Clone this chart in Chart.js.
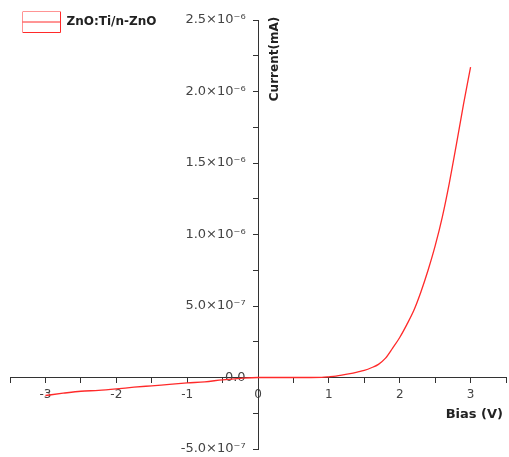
<!DOCTYPE html>
<html>
<head>
<meta charset="utf-8">
<script src="https://cdn.jsdelivr.net/npm/chart.js@4/dist/chart.umd.min.js"></script>
<style>
  html, body { margin: 0; padding: 0; background: #ffffff; }
  #wrap { width: 509px; height: 457px; position: relative; }
</style>
</head>
<body>
<div id="wrap"><canvas id="c" width="509" height="457"></canvas></div>
<script>
// ---- data ----
const seriesLabel = 'ZnO:Ti/n-ZnO';
const biasV = [-3.0, -2.75, -2.5, -2.25, -2.0, -1.75, -1.5, -1.25, -1.0, -0.75, -0.5, -0.25, 0.0,
               0.25, 0.5, 0.75, 0.9, 1.0, 1.1, 1.2, 1.3, 1.4, 1.5, 1.6, 1.7, 1.8, 1.9,
               2.0, 2.1, 2.2, 2.3, 2.4, 2.5, 2.6, 2.7, 2.8, 2.9, 3.0];
const currentMA = [-1.26e-7, -1.10e-7, -0.96e-7, -0.90e-7, -0.80e-7, -0.68e-7, -0.58e-7, -0.48e-7, -0.38e-7, -0.30e-7, -0.16e-7, -0.06e-7, 0.0,
                   0.0, 0.0, 0.0, 0.001e-6, 0.005e-6, 0.010e-6, 0.018e-6, 0.027e-6, 0.038e-6, 0.050e-6, 0.068e-6, 0.092e-6, 0.135e-6, 0.205e-6,
                   0.280e-6, 0.370e-6, 0.470e-6, 0.600e-6, 0.750e-6, 0.920e-6, 1.120e-6, 1.360e-6, 1.630e-6, 1.910e-6, 2.170e-6];
const xTitle = 'Bias (V)';
const yTitle = 'Current(mA)';
const xMin = -3.5, xMax = 3.5, xStep = 0.5;
const yMin = -5e-7, yMax = 2.5e-6, yStep = 2.5e-7;

const LEG_LEFT = 22.5, LEG_TOP = 11.5, LEG_BOX_W = 38, LEG_BOX_H = 21;

function yLabel(v) {
  const k = Math.round(v / yStep);
  if (k % 2 !== 0) return '';
  const val = k * yStep;
  const gap = '   ';
  if (k === 0) return '0.0' + gap;
  if (Math.abs(val) >= 1e-6 - 1e-12) return (val / 1e-6).toFixed(1) + '×10⁻⁶' + gap;
  return (val / 1e-7).toFixed(1) + '×10⁻⁷' + gap;
}
function xLabel(v) {
  const k = Math.round(v / xStep);
  if (k % 2 !== 0) return '';
  return String(k / 2);
}

const titlesPlugin = {
  id: 'titlesAndLegendPos',
  afterLayout(chart) {
    const lg = chart.legend;
    if (lg) { lg.left = LEG_LEFT; lg.top = LEG_TOP; }
  },
  afterDraw(chart) {
    const ctx = chart.ctx;
    // Origin-style line through the legend box
    const ds = chart.data.datasets[0];
    ctx.save();
    ctx.strokeStyle = ds.borderColor;
    ctx.lineWidth = 1;
    ctx.beginPath();
    ctx.moveTo(LEG_LEFT, LEG_TOP + LEG_BOX_H / 2);
    ctx.lineTo(LEG_LEFT + LEG_BOX_W, LEG_TOP + LEG_BOX_H / 2);
    ctx.stroke();
    ctx.restore();

    ctx.save();
    ctx.fillStyle = '#222';
    ctx.font = 'bold 12px "DejaVu Sans"';
    ctx.textAlign = 'center';
    ctx.textBaseline = 'middle';
    ctx.translate(275, 59);
    ctx.rotate(-Math.PI / 2);
    ctx.fillText(yTitle, 0, 0);
    ctx.restore();
    ctx.save();
    ctx.fillStyle = '#222';
    ctx.font = 'bold 13px "DejaVu Sans"';
    ctx.textAlign = 'right';
    ctx.textBaseline = 'middle';
    ctx.fillText(xTitle, 503, 415);
    ctx.restore();
  }
};

function zeroPad(s) { s.paddingTop = 0; s.paddingBottom = 0; s.paddingLeft = 0; s.paddingRight = 0; }

const axisCommon = {
  grid: { display: true, drawOnChartArea: false, drawTicks: true, tickLength: 5, tickColor: '#333', tickWidth: 1 },
  border: { display: true, color: '#333', width: 1 },
};

new Chart(document.getElementById('c'), {
  type: 'line',
  data: {
    datasets: [{
      label: seriesLabel,
      data: biasV.map((b, i) => ({ x: b, y: currentMA[i] })),
      borderColor: '#ff2a2a',
      backgroundColor: '#ffffff',
      borderWidth: 1.3,
      pointRadius: 0,
      fill: false,
      cubicInterpolationMode: 'monotone'
    }]
  },
  options: {
    responsive: false,
    animation: false,
    devicePixelRatio: 1,
    layout: { padding: { left: 10, right: 3, top: 20, bottom: 8 } },
    plugins: {
      legend: {
        display: true,
        position: 'chartArea',
        align: 'start',
        labels: {
          boxWidth: LEG_BOX_W,
          boxHeight: LEG_BOX_H,
          padding: 0,
          color: '#222',
          font: { family: 'DejaVu Sans', size: 12, weight: 'bold' },
          generateLabels(chart) {
            const items = Chart.defaults.plugins.legend.labels.generateLabels(chart);
            items.forEach(it => { it.lineWidth = 1; it.fillStyle = '#ffffff'; });
            return items;
          }
        }
      },
      tooltip: { enabled: false }
    },
    scales: {
      x: Object.assign({}, axisCommon, {
        type: 'linear',
        position: { y: 0 },
        min: xMin, max: xMax,
        afterFit(s) { s.height = 0; zeroPad(s); },
        ticks: {
          stepSize: xStep, maxTicksLimit: 100, autoSkip: false, maxRotation: 0,
          color: '#444', padding: 5,
          font: { family: 'DejaVu Sans', size: 12 },
          callback: xLabel
        }
      }),
      y: Object.assign({}, axisCommon, {
        type: 'linear',
        position: { x: 0 },
        min: yMin, max: yMax,
        afterFit(s) { s.width = 0; zeroPad(s); },
        ticks: {
          stepSize: yStep, maxTicksLimit: 100, autoSkip: false,
          color: '#444', padding: 5,
          font: { family: 'DejaVu Sans', size: 13 },
          callback: yLabel
        }
      })
    }
  },
  plugins: [titlesPlugin]
});
</script>
</body>
</html>
